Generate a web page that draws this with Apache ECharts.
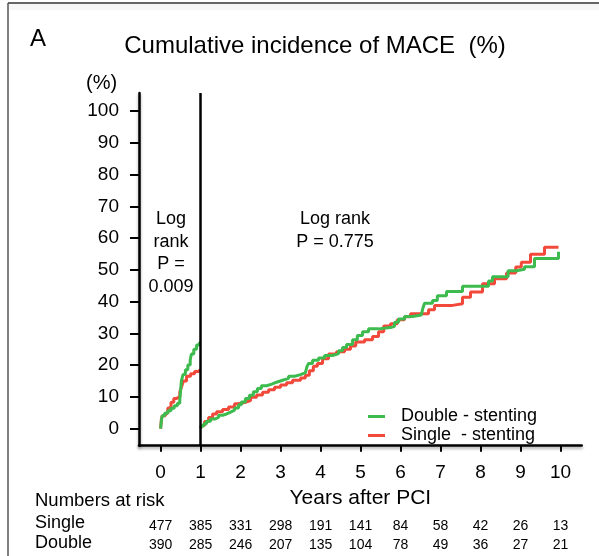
<!DOCTYPE html>
<html>
<head>
<meta charset="utf-8">
<script src="https://cdn.jsdelivr.net/npm/echarts@6/dist/echarts.min.js"></script>
<style>
  html, body { margin: 0; padding: 0; background: #fff; }
  #chart { width: 599px; height: 556px; }
</style>
</head>
<body>
<div id="chart"></div>
<script>
// Axis ticks
const yearTicks = [0, 1, 2, 3, 4, 5, 6, 7, 8, 9, 10];
const pctTicks = [0, 10, 20, 30, 40, 50, 60, 70, 80, 90, 100];

// Numbers at risk at each year
const riskSingle = [477, 385, 331, 298, 191, 141, 84, 58, 42, 26, 13];
const riskDouble = [390, 285, 246, 207, 135, 104, 78, 49, 36, 27, 21];

// Cumulative incidence (%), first year (landmark 0-1)
const doubleEarlyT = [0, 0.02, 0.04, 0.10, 0.18, 0.26, 0.34, 0.42, 0.48, 0.50, 0.52, 0.56, 0.62, 0.68, 0.74, 0.77, 0.83, 0.90, 0.97, 1.00];
const doubleEarlyV = [0, 2.5, 4.0, 4.8, 5.6, 6.4, 7.2, 8.0, 9.0, 12.0, 15.0, 17.0, 18.5, 20.0, 21.5, 23.5, 25.0, 26.3, 27.0, 27.0];
const singleEarlyT = [0, 0.02, 0.04, 0.12, 0.18, 0.26, 0.33, 0.40, 0.48, 0.52, 0.57, 0.65, 0.75, 0.85, 0.95, 1.00];
const singleEarlyV = [0, 3.0, 4.0, 4.8, 6.5, 8.3, 9.5, 10.0, 11.5, 13.0, 15.0, 16.5, 17.3, 18.0, 18.6, 18.6];

// Cumulative incidence (%), years 1-10 (landmark from 1 year)
const doubleLateT = [1.00, 1.02, 1.08, 1.15, 1.25, 1.35, 1.45, 1.55, 1.65, 1.75, 1.85, 1.95, 2.02, 2.12, 2.22, 2.32, 2.42, 2.52, 2.65, 2.78, 2.90, 3.05, 3.20, 3.35, 3.50, 3.62, 3.66, 3.70, 3.80, 3.95, 4.10, 4.30, 4.45, 4.55, 4.65, 4.80, 4.92, 5.05, 5.20, 5.45, 5.75, 5.85, 5.95, 6.10, 6.30, 6.52, 6.56, 6.60, 6.80, 6.92, 7.15, 7.55, 8.20, 8.30, 8.69, 8.90, 9.10, 9.35, 9.95];
const doubleLateV = [0, 0.8, 1.5, 2.3, 3.0, 3.5, 4.2, 4.6, 5.2, 5.8, 6.5, 7.5, 8.4, 9.5, 10.5, 11.6, 12.6, 13.5, 14.0, 14.6, 15.2, 15.8, 16.5, 17.0, 17.6, 18.0, 19.5, 20.5, 21.5, 22.2, 23.0, 23.6, 24.5, 25.5, 26.5, 28.0, 29.3, 30.5, 31.4, 31.8, 32.2, 33.5, 34.5, 35.3, 35.8, 36.2, 38.0, 39.5, 40.3, 41.8, 43.2, 44.8, 46.5, 47.8, 49.7, 50.2, 51.0, 53.6, 55.7];
const singleLateT = [1.00, 1.03, 1.10, 1.20, 1.30, 1.40, 1.55, 1.70, 1.85, 1.95, 2.10, 2.25, 2.40, 2.55, 2.70, 2.85, 3.00, 3.15, 3.30, 3.50, 3.62, 3.72, 3.82, 3.92, 4.05, 4.20, 4.40, 4.60, 4.75, 4.88, 5.10, 5.30, 5.45, 5.58, 5.75, 5.92, 6.10, 6.25, 6.70, 6.85, 7.30, 7.55, 7.75, 8.05, 8.35, 8.65, 8.88, 9.02, 9.25, 9.60, 9.95];
const singleLateV = [0, 1.0, 2.2, 3.5, 4.6, 5.3, 6.0, 6.8, 7.8, 8.2, 8.8, 9.9, 10.6, 11.4, 12.2, 13.0, 13.7, 14.4, 15.2, 15.9, 16.8, 18.2, 19.6, 20.5, 22.0, 23.5, 24.2, 25.0, 26.0, 27.3, 28.0, 29.0, 30.5, 32.3, 33.0, 34.3, 35.2, 36.2, 37.4, 38.8, 39.3, 41.4, 43.0, 45.6, 47.2, 49.0, 50.9, 52.4, 54.9, 57.1, 57.1];

const NAME_DOUBLE = 'Double - stenting';
const NAME_SINGLE = 'Single  - stenting';
const GREEN = '#3dbb4e';
const RED = '#f2493a';
const FONT = '"Liberation Sans", Arial, Helvetica, sans-serif';

const pairs = (ts, vs) => ts.map((t, i) => [t, vs[i]]);

function curve(name, color, ts, vs, extra) {
  return Object.assign({
    name: name,
    type: 'line',
    step: 'end',
    showSymbol: false,
    symbol: 'none',
    color: color,
    lineStyle: { color: color, width: 3 },
    data: pairs(ts, vs),
    z: 3,
    silent: true
  }, extra || {});
}

const chart = echarts.init(document.getElementById('chart'), null, { renderer: 'canvas' });

const axisShadow = { shadowColor: 'rgba(0,0,0,0.35)', shadowBlur: 3, shadowOffsetY: 2 };

function riskAxis(values, offset) {
  return {
    type: 'value',
    min: -0.54, max: 10.53,
    position: 'bottom',
    offset: offset,
    axisLine: { show: false, onZero: false },
    axisTick: { show: false },
    splitLine: { show: false },
    axisLabel: {
      customValues: yearTicks,
      margin: 0,
      color: '#000',
      fontSize: 14,
      fontFamily: FONT,
      verticalAlign: 'middle',
      formatter: function (v) { return String(values[yearTicks.indexOf(Math.round(v))]); }
    }
  };
}

chart.setOption({
  animation: false,
  backgroundColor: '#fff',
  textStyle: { fontFamily: FONT, color: '#000' },
  grid: { left: 139, right: 17.3, top: 93, bottom: 110.3 },
  legend: {
    data: [NAME_DOUBLE, NAME_SINGLE],
    orient: 'vertical',
    left: 363, top: 402,
    icon: 'rect',
    itemWidth: 17, itemHeight: 3,
    itemGap: 0,
    selectedMode: false,
    textStyle: { fontSize: 18, fontFamily: FONT, color: '#000', lineHeight: 19, padding: [0, 0, 0, 11] }
  },
  xAxis: [
    {
      type: 'value',
      min: -0.54, max: 10.53,
      name: 'Years after PCI',
      nameLocation: 'middle',
      nameGap: 39,
      nameTextStyle: { fontSize: 21, color: '#000', fontFamily: FONT },
      axisLine: { onZero: false, lineStyle: Object.assign({ color: '#000', width: 2.5 }, axisShadow) },
      axisTick: { customValues: yearTicks, length: 6, lineStyle: { color: '#000', width: 2 } },
      axisLabel: { customValues: yearTicks, margin: 18, fontSize: 19, color: '#000', fontFamily: FONT },
      splitLine: { show: false }
    },
    riskAxis(riskSingle, 80),
    riskAxis(riskDouble, 99)
  ],
  yAxis: {
    type: 'value',
    min: -5.4, max: 105.7,
    axisLine: { onZero: false, lineStyle: Object.assign({ color: '#000', width: 2.5 }, axisShadow) },
    axisTick: { customValues: pctTicks, length: 9, lineStyle: { color: '#000', width: 2 } },
    axisLabel: { customValues: pctTicks, margin: 20, fontSize: 19, color: '#000', fontFamily: FONT },
    splitLine: { show: false }
  },
  title: [
    { text: 'A', left: 25, top: 22, textStyle: { fontSize: 24, fontWeight: 'normal', color: '#000', fontFamily: FONT } },
    { text: 'Cumulative incidence of MACE  (%)', left: 310, top: 29, textAlign: 'center',
      textStyle: { fontSize: 24, fontWeight: 'normal', color: '#000', fontFamily: FONT } }
  ],
  series: [
    curve(NAME_SINGLE, RED, singleEarlyT, singleEarlyV, {
      markLine: {
        silent: true,
        symbol: ['none', 'none'],
        label: { show: false },
        lineStyle: { color: '#000', width: 2.5, type: 'solid' },
        data: [{ xAxis: 1 }],
        z: 5
      }
    }),
    curve(NAME_SINGLE, RED, singleLateT, singleLateV),
    curve(NAME_DOUBLE, GREEN, doubleEarlyT, doubleEarlyV),
    curve(NAME_DOUBLE, GREEN, doubleLateT, doubleLateV)
  ],
  graphic: [
    // page frame
    { type: 'line', shape: { x1: 8, y1: 3, x2: 599, y2: 3 }, style: { stroke: '#333', lineWidth: 1.5 } },
    { type: 'line', shape: { x1: 8, y1: 3, x2: 8, y2: 556 }, style: { stroke: '#555', lineWidth: 1.5 } },
    { type: 'rect', shape: { x: 9, y: 4, width: 590, height: 6 }, style: { fill: 'rgba(0,0,0,0.03)' } },
    { type: 'text', left: 86, top: 73, style: { text: '(%)', fontSize: 20, fill: '#000', fontFamily: FONT } },
    { type: 'text', x: 171, y: 208, style: { text: 'Log\nrank\nP =\n0.009', fontSize: 18, lineHeight: 22.5, align: 'center', fill: '#000', fontFamily: FONT } },
    { type: 'text', x: 335, y: 208, style: { text: 'Log rank\nP = 0.775', fontSize: 18, lineHeight: 22.5, align: 'center', fill: '#000', fontFamily: FONT } },
    { type: 'text', left: 35, top: 491, style: { text: 'Numbers at risk', fontSize: 18.5, fill: '#000', fontFamily: FONT } },
    { type: 'text', left: 35, top: 514, style: { text: 'Single', fontSize: 18, fill: '#000', fontFamily: FONT } },
    { type: 'text', left: 35, top: 534, style: { text: 'Double', fontSize: 18, fill: '#000', fontFamily: FONT } }
  ]
});
</script>
</body>
</html>
